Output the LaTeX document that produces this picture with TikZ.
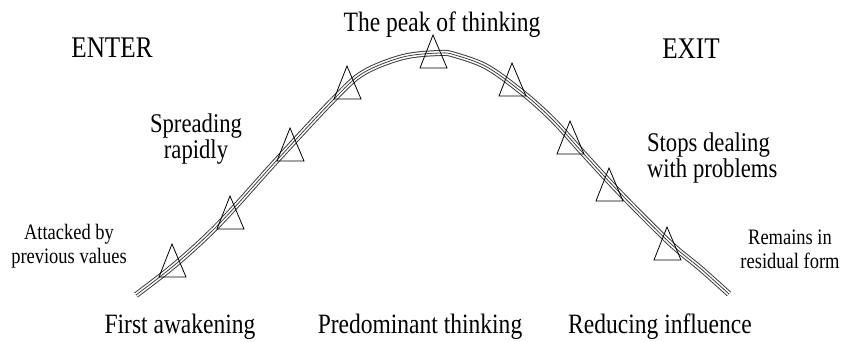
\documentclass[tikz,border=0pt]{standalone}
\usepackage{fontspec}
\setmainfont{Liberation Serif}
\newcommand{\sqz}[1]{\scalebox{0.84}[1]{#1}}
\begin{document}
\begin{tikzpicture}[x=1pt,y=-1pt,
  lbl/.style={inner sep=0pt,outer sep=0pt,anchor=base,text=black},
  big/.style={lbl,font=\fontsize{30}{30}\selectfont},
  mid/.style={lbl,font=\fontsize{27}{26}\selectfont},
  small/.style={lbl,font=\fontsize{22}{24}\selectfont},
  bottom/.style={lbl,font=\fontsize{28}{28}\selectfont},
  tri/.style={draw=black,line width=0.8pt,line join=miter}]
\useasboundingbox (0,0) rectangle (844,341);
% the curve (triple line)
\def\curve{plot[smooth,tension=0.55] coordinates {(136,295) (177,263) (220,223) (277,160) (333,100) (363,73) (403,57) (440,53) (455,55) (487,67) (523,93) (553,120) (583,153) (620,193) (670,243) (700,268) (729,294)}}
\draw[line width=6pt,color=black!75] \curve;
\draw[line width=4pt,color=white] \curve;
\draw[line width=0.8pt,color=black!75] \curve;
% triangles along the curve
\foreach \ax/\ay in {172/244,230/196,290/128,347/66,433/35,512/63,570/121,609/168,667/227}{
  \draw[tri] (\ax,\ay) -- (\ax+14,\ay+33) -- (\ax-13,\ay+33) -- cycle;
}
% labels
\node[big] (enter) at (112,57) {\sqz{ENTER}};
\node[big] (exit) at (691,58) {\sqz{EXIT}};
\node[bottom] (peak) at (442,31) {\sqz{The peak of thinking}};
\node[mid,align=center] (spread) at (196,158) {\sqz{Spreading}\\\sqz{rapidly}};
\node[small,align=center] (attack) at (69,263) {\sqz{Attacked by}\\\sqz{previous values}};
\node[mid,align=left,anchor=base west] (stops) at (647,177) {\sqz{Stops dealing}\\\sqz{with problems}};
\node[small,align=center] (remain) at (790,268) {\sqz{Remains in}\\\sqz{residual form}};
\node[bottom] (first) at (180,333) {\sqz{First awakening}};
\node[bottom] (pred) at (420,333) {\sqz{Predominant thinking}};
\node[bottom] (reduce) at (660,333) {\sqz{Reducing influence}};
\end{tikzpicture}
\end{document}
